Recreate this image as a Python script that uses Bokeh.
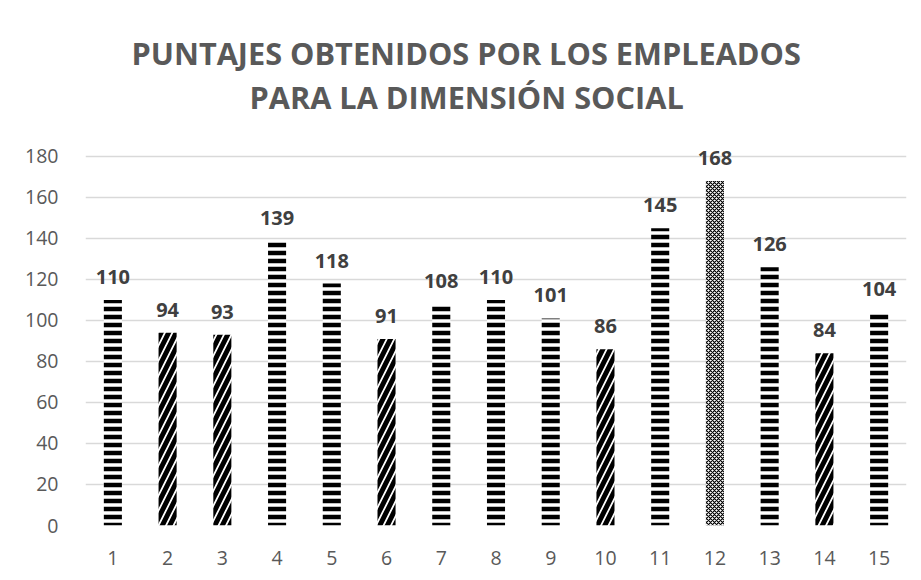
from bokeh.plotting import figure
from bokeh.models import ColumnDataSource, FixedTicker, Title, LabelSet
from bokeh.core.properties import value
from bokeh.embed import file_html
from bokeh.resources import INLINE

empleados = [str(i) for i in range(1, 16)]
puntajes = [110, 94, 93, 139, 118, 91, 108, 110, 101, 86, 145, 168, 126, 84, 104]
patrones = ["horizontal_line", "right_diagonal_line", "right_diagonal_line", "horizontal_line",
            "horizontal_line", "right_diagonal_line", "horizontal_line", "horizontal_line",
            "horizontal_line", "right_diagonal_line", "horizontal_line", "diagonal_cross",
            "horizontal_line", "right_diagonal_line", "horizontal_line"]
y_ticks = list(range(0, 181, 20))
titulo_1 = "PUNTAJES OBTENIDOS POR LOS EMPLEADOS"
titulo_2 = "PARA LA DIMENSIÓN SOCIAL"

FONT = "Open Sans"
GRAY = "#595959"

src = ColumnDataSource(dict(x=empleados, y=puntajes, lab=[str(v) for v in puntajes]))

p = figure(width=913, height=572, x_range=empleados, y_range=(0, 199),
           output_backend="svg", toolbar_location=None,
           min_border_left=85, min_border_right=7, min_border_bottom=47, min_border_top=117)
p.outline_line_color = None

for pat, scale, weight in [("horizontal_line", 8, 4.5), ("right_diagonal_line", 15, 5),
                           ("diagonal_cross", 4, 1.2)]:
    idx = [i for i, pp in enumerate(patrones) if pp == pat]
    s = ColumnDataSource(dict(x=[empleados[i] for i in idx], y=[puntajes[i] for i in idx]))
    p.vbar(x="x", top="y", width=0.33, source=s, fill_color="white", line_color=None,
           hatch_pattern=pat, hatch_color="black", hatch_scale=scale, hatch_weight=weight)

labels = LabelSet(x="x", y="y", text="lab", source=src, text_align="center",
                  text_baseline="bottom", y_offset=16, text_font=value(FONT),
                  text_font_size=value("20px"), text_font_style=value("bold"),
                  text_color=value("#404040"))
p.add_layout(labels)

p.yaxis.ticker = FixedTicker(ticks=y_ticks)
for ax in (p.xaxis[0], p.yaxis[0]):
    ax.axis_line_color = None
    ax.major_tick_line_color = None
    ax.minor_tick_line_color = None
    ax.major_label_text_font = FONT
    ax.major_label_text_font_size = "19.5px"
    ax.major_label_text_color = GRAY
p.yaxis.major_label_standoff = 21
p.xaxis.major_label_standoff = 19
p.xgrid.grid_line_color = None
p.ygrid.grid_line_color = "#d9d9d9"
p.ygrid.grid_line_width = 1.3

t2 = Title(text=titulo_2, align="left", text_font=FONT, text_font_size="30.7px",
           text_font_style="bold", text_color=GRAY, standoff=0, offset=164)
t1 = Title(text=titulo_1, align="left", text_font=FONT, text_font_size="30.7px",
           text_font_style="bold", text_color=GRAY, standoff=0, offset=46)
p.add_layout(t2, "above")
p.add_layout(t1, "above")

open("out.html", "w").write(file_html(p, INLINE))
